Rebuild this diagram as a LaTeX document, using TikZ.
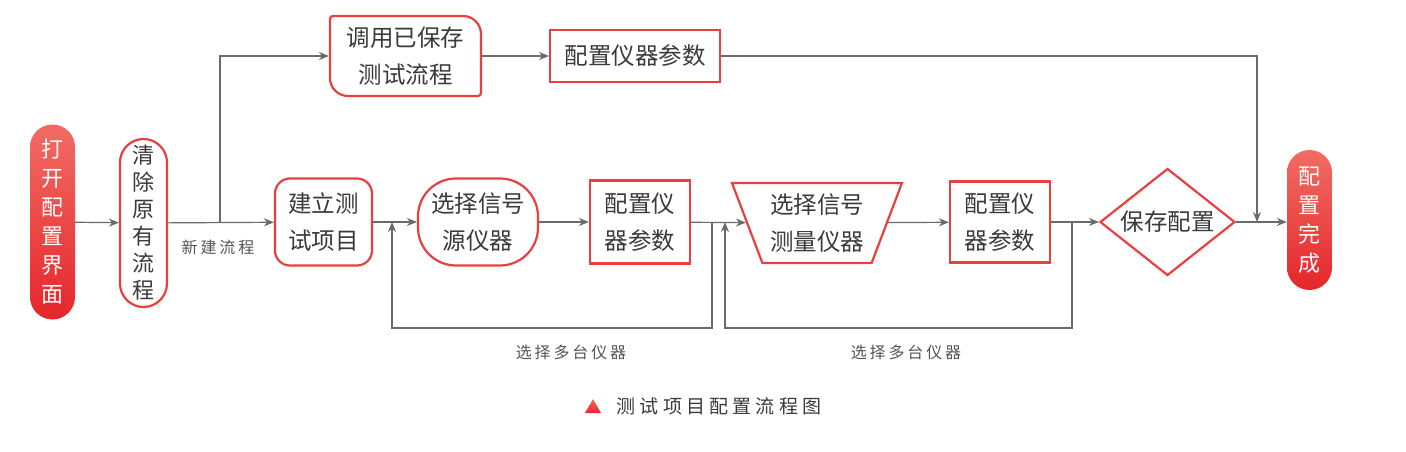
\documentclass[tikz,border=0pt]{standalone}
\usepackage{fontspec}
\setmainfont{Noto Sans CJK SC}
\usetikzlibrary{arrows.meta,shapes.geometric}
\definecolor{boxred}{HTML}{E8403E}
\definecolor{pilltop}{HTML}{F26C64}
\definecolor{pillbot}{HTML}{E5262B}
\definecolor{linegray}{HTML}{6A6A6A}
\definecolor{txtgray}{HTML}{3A3A3A}
\definecolor{lblgray}{HTML}{555555}

\begin{document}
\begin{tikzpicture}[x=1pt,y=1pt,
	box/.style={draw=boxred, line width=2.2pt, fill=white, inner sep=0pt, text=txtgray, align=center, font=\fontsize{23.5}{37}\selectfont},
	pill/.style={rectangle, rounded corners=22.5pt, inner sep=0pt, minimum width=45pt, align=center, text=white, top color=pilltop, bottom color=pillbot, font=\fontsize{22}{29}\selectfont},
	flow/.style={draw=linegray, line width=1.2pt, -{Stealth[length=10pt,width=8pt]}},
	lbl/.style={text=lblgray, font=\fontsize{16}{16}\selectfont\addfontfeatures{LetterSpace=18}}]
			\useasboundingbox (0,0) rectangle (1406,-452);
			% main row
			\node[pill, minimum height=195pt] (open) at (52.5,-222) {打\\开\\配\\置\\界\\面};
			\node[box, rounded corners=23.5pt, minimum width=47pt, minimum height=168pt, font=\fontsize{22}{27}\selectfont] (clear) at (143.5,-223) {清\\除\\原\\有\\流\\程};
			\node[box, rounded corners=15pt, minimum width=97pt, minimum height=87pt] (build) at (323.5,-222) {建立测\\试项目};
			\node[box, rounded corners=38pt, minimum width=120pt, minimum height=87pt] (src) at (478,-222) {选择信号\\源仪器};
			\node[box, minimum width=100pt, minimum height=83pt] (cfgA) at (640,-222) {配置仪\\器参数};
			\node[box, trapezium, trapezium left angle=66, trapezium right angle=66, shape border rotate=180, trapezium stretches=true, minimum width=170pt, minimum height=80pt] (meas) at (817,-223) {选择信号\\测量仪器};
			\node[box, minimum width=100pt, minimum height=81pt] (cfgB) at (1000,-222) {配置仪\\器参数};
			\node[box, diamond, aspect=1.26, minimum width=135pt, minimum height=107pt] (save) at (1167.5,-222) {保存配置};
			\node[pill, minimum height=140pt] (done) at (1309.5,-220) {配\\置\\完\\成};
			% top row
			\draw[draw=boxred, line width=2.2pt, fill=white] (333,-16) -- (463,-16) arc[start angle=90, end angle=0, radius=18] -- (481,-93) arc[start angle=0, end angle=-90, radius=3] -- (348,-96) arc[start angle=270, end angle=180, radius=18] -- (330,-19) arc[start angle=180, end angle=90, radius=3] -- cycle;
			\node[box, draw=none, fill=none, minimum width=151pt, minimum height=80pt] (recall) at (405.5,-56) {调用已保存\\测试流程};
			\node[box, minimum width=170pt, minimum height=52pt] (cfgT) at (635,-56) {配置仪器参数};
			% connectors
			\coordinate (fork) at (220,-222);
			\coordinate (merge) at (1257,-222);
			\coordinate (tapA) at (712,-222);
			\coordinate (backA) at (392,-222);
			\coordinate (tapB) at (1072,-222);
			\coordinate (backB) at (725,-222);
			\draw[flow] (open) -- (clear);
			\draw[flow] (clear) -- (build);
			\draw[flow] (fork) |- (recall);
			\draw[flow] (build) -- (src);
			\draw[flow] (src) -- (cfgA);
			\draw[flow] (cfgA) -- (meas);
			\draw[flow] (meas) -- (cfgB);
			\draw[flow] (cfgB) -- (save);
			\draw[flow] (save.east) -- (save.east -| done.west);
			\draw[flow] (recall) -- (cfgT);
			\draw[flow] (cfgT) -| (merge);
			\draw[flow] (tapA) -- ++(0,-106) -| (backA);
			\draw[flow] (tapB) -- ++(0,-106) -| (backB);
			% labels
			\node[lbl] (newflow) at (218,-247) {新建流程};
			\node[lbl] (multiA) at (571,-352) {选择多台仪器};
			\node[lbl] (multiB) at (906,-352) {选择多台仪器};
			% caption
			\shade[top color=pilltop, bottom color=pillbot] (585,-413) -- (601,-413) -- (593,-399) -- cycle;
			\node[text=txtgray, font=\fontsize{19}{19}\selectfont\addfontfeatures{LetterSpace=22}] (caption) at (719,-406) {测试项目配置流程图};
\end{tikzpicture}
\end{document}
